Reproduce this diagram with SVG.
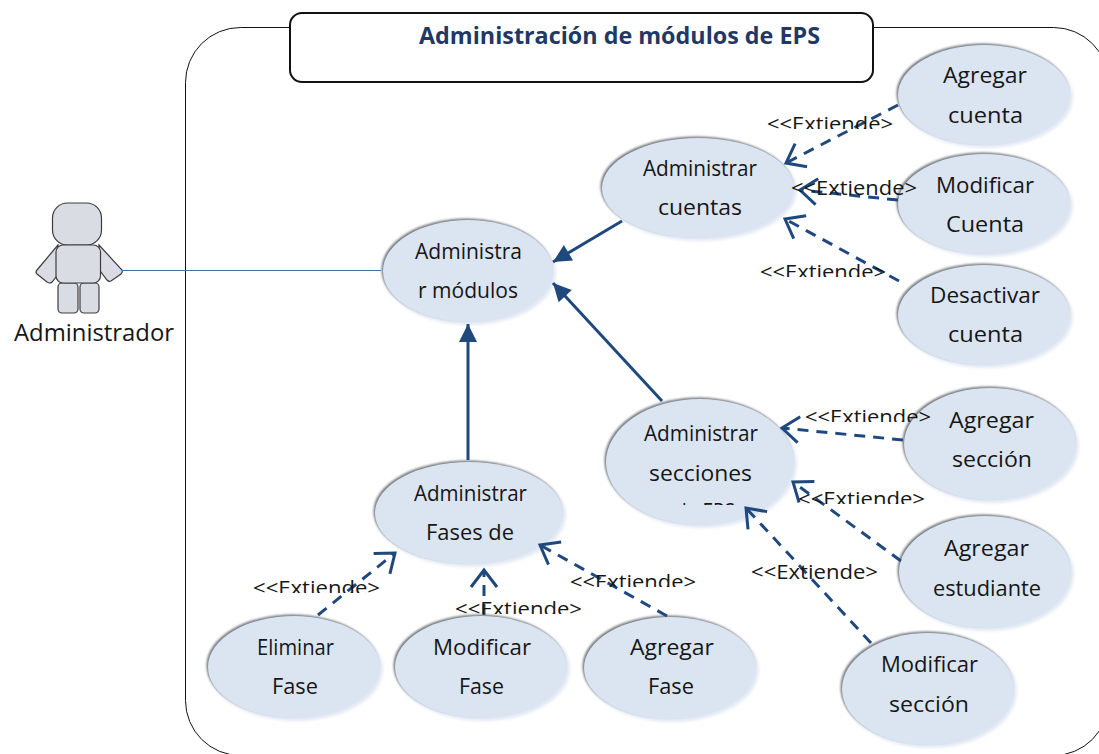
<svg xmlns="http://www.w3.org/2000/svg" width="1099" height="754" viewBox="0 0 1099 754">
<style>
text{font-family:"Open Sans","Lato","Liberation Sans",sans-serif;fill:#161616}
.t{font-size:21px}
.l{font-size:20px}
.ell{fill:#dbe5f1}
.sh{fill:#e3eaf5;filter:url(#b)}
.ed{fill:#777b80;filter:url(#s)}
.dash{fill:none;stroke:#1f497d;stroke-width:3;stroke-dasharray:11 8;marker-end:url(#open)}
.solid{fill:none;stroke:#1f497d;stroke-width:3;marker-end:url(#fill)}
.act{fill:#d9dde3;stroke:#3c3c3c;stroke-width:1.2}
</style>
<defs>
<filter id="b" x="-10%" y="-10%" width="120%" height="120%"><feGaussianBlur stdDeviation="1.5"/></filter>
<filter id="s" x="-10%" y="-10%" width="120%" height="120%"><feGaussianBlur stdDeviation="0.8"/></filter>
<marker id="open" markerUnits="userSpaceOnUse" markerWidth="40" markerHeight="40" refX="20" refY="20" orient="auto" overflow="visible"><path d="M3,7 L20,20 L3,33" fill="none" stroke="#1f497d" stroke-width="3"/></marker>
<marker id="fill" markerUnits="userSpaceOnUse" markerWidth="30" markerHeight="30" refX="18" refY="10" orient="auto" overflow="visible"><path d="M0,1 L18,10 L0,19 Z" fill="#1f497d"/></marker>
<clipPath id="c1"><rect x="760" y="100" width="140" height="29"/></clipPath>
<clipPath id="c3"><rect x="750" y="250" width="145" height="27"/></clipPath>
<clipPath id="c4"><rect x="800" y="395" width="135" height="27"/></clipPath>
<clipPath id="c5"><rect x="790" y="480" width="140" height="24"/></clipPath>
<clipPath id="c7"><rect x="565" y="565" width="135" height="22"/></clipPath>
<clipPath id="c8"><rect x="250" y="570" width="135" height="23"/></clipPath>
<clipPath id="c9"><rect x="450" y="590" width="135" height="24"/></clipPath>
<clipPath id="c0"><rect x="660" y="495" width="90" height="10"/></clipPath>
</defs>
<rect id="boundary" x="185.500" y="27.500" width="923" height="728" rx="55" ry="55" fill="#fff" stroke="#111" stroke-width="1"/>
<g id="title">
<rect x="290" y="13" width="583" height="69" rx="12" ry="12" fill="#fff" stroke="#111" stroke-width="2"/>
<text x="419" y="44" font-size="23" font-weight="700" style="fill:#1f3864" textLength="401" lengthAdjust="spacingAndGlyphs">Administración de módulos de EPS</text>
</g>
<g id="actor">
<path class="act" d="M58,245 L37,270 Q35,272 37,274 L47,282 Q50,284 52,282 L60,272 Z"/>
<path class="act" d="M99,245 L122,270 Q123,272 121,274 L111,281 Q109,282 107,280 L98,268 Z"/>
<rect class="act" x="58" y="283" width="20" height="30" rx="4"/>
<rect class="act" x="80" y="283" width="19" height="30" rx="4"/>
<rect class="act" x="52.500" y="203" width="49" height="42" rx="15"/>
<rect class="act" x="56" y="245" width="44.500" height="38" rx="7"/>
<text x="14" y="341" font-size="24" textLength="160" lengthAdjust="spacingAndGlyphs">Administrador</text>
</g>
<g id="n-modulos"><ellipse class="sh" cx="470" cy="273" rx="86" ry="52"/><ellipse class="ed" cx="466.500" cy="269.500" rx="85" ry="51"/><ellipse class="ell" cx="468" cy="271" rx="85" ry="51"/>
<text class="t" x="415" y="259" textLength="107" lengthAdjust="spacingAndGlyphs">Administra</text><text class="t" x="418" y="298" textLength="100" lengthAdjust="spacingAndGlyphs">r módulos</text></g>
<g id="n-cuentas"><ellipse class="sh" cx="700" cy="190" rx="97" ry="51"/><ellipse class="ed" cx="696.500" cy="186.500" rx="96" ry="50"/><ellipse class="ell" cx="698" cy="188" rx="96" ry="50"/>
<text class="t" x="643" y="176" textLength="114" lengthAdjust="spacingAndGlyphs">Administrar</text><text class="t" x="658" y="215" textLength="84" lengthAdjust="spacingAndGlyphs">cuentas</text></g>
<g id="n-secciones"><ellipse class="sh" cx="702" cy="464" rx="95" ry="64"/><ellipse class="ed" cx="698.500" cy="460.500" rx="94" ry="63"/><ellipse class="ell" cx="700" cy="462" rx="94" ry="63"/>
<text class="t" x="644" y="441" textLength="114" lengthAdjust="spacingAndGlyphs">Administrar</text><text class="t" x="649" y="481" textLength="103" lengthAdjust="spacingAndGlyphs">secciones</text><text class="t" x="675" y="519" clip-path="url(#c0)" textLength="60" lengthAdjust="spacingAndGlyphs">de EPS</text></g>
<g id="n-fases"><ellipse class="sh" cx="471" cy="515" rx="95" ry="52"/><ellipse class="ed" cx="467.500" cy="511.500" rx="94" ry="51"/><ellipse class="ell" cx="469" cy="513" rx="94" ry="51"/>
<text class="t" x="414" y="501" textLength="113" lengthAdjust="spacingAndGlyphs">Administrar</text><text class="t" x="426" y="540" textLength="88" lengthAdjust="spacingAndGlyphs">Fases de</text></g>
<g id="n-agregar-cuenta"><ellipse class="sh" cx="986" cy="97" rx="87" ry="51"/><ellipse class="ed" cx="982.500" cy="93.500" rx="86" ry="50"/><ellipse class="ell" cx="984" cy="95" rx="86" ry="50"/>
<text class="t" x="943" y="83" textLength="84" lengthAdjust="spacingAndGlyphs">Agregar</text><text class="t" x="948" y="123" textLength="75" lengthAdjust="spacingAndGlyphs">cuenta</text></g>
<g id="n-modificar-cuenta"><ellipse class="sh" cx="986" cy="206" rx="87" ry="51"/><ellipse class="ed" cx="982.500" cy="202.500" rx="86" ry="50"/><ellipse class="ell" cx="984" cy="204" rx="86" ry="50"/>
<text class="t" x="936" y="193" textLength="98" lengthAdjust="spacingAndGlyphs">Modificar</text><text class="t" x="946" y="232" textLength="78" lengthAdjust="spacingAndGlyphs">Cuenta</text></g>
<g id="n-desactivar"><ellipse class="sh" cx="986" cy="317" rx="87" ry="51"/><ellipse class="ed" cx="982.500" cy="313.500" rx="86" ry="50"/><ellipse class="ell" cx="984" cy="315" rx="86" ry="50"/>
<text class="t" x="930" y="303" textLength="110" lengthAdjust="spacingAndGlyphs">Desactivar</text><text class="t" x="948" y="342" textLength="75" lengthAdjust="spacingAndGlyphs">cuenta</text></g>
<g id="n-agregar-seccion"><ellipse class="sh" cx="992" cy="446" rx="87" ry="57"/><ellipse class="ed" cx="988.500" cy="442.500" rx="86" ry="56"/><ellipse class="ell" cx="990" cy="444" rx="86" ry="56"/>
<text class="t" x="949" y="428" textLength="85" lengthAdjust="spacingAndGlyphs">Agregar</text><text class="t" x="952" y="467" textLength="80" lengthAdjust="spacingAndGlyphs">sección</text></g>
<g id="n-estudiante"><ellipse class="sh" cx="987" cy="574" rx="87" ry="57"/><ellipse class="ed" cx="983.500" cy="570.500" rx="86" ry="56"/><ellipse class="ell" cx="985" cy="572" rx="86" ry="56"/>
<text class="t" x="944" y="556" textLength="85" lengthAdjust="spacingAndGlyphs">Agregar</text><text class="t" x="933" y="596" textLength="108" lengthAdjust="spacingAndGlyphs">estudiante</text></g>
<g id="n-modificar-seccion"><ellipse class="sh" cx="930" cy="691" rx="87" ry="57"/><ellipse class="ed" cx="926.500" cy="687.500" rx="86" ry="56"/><ellipse class="ell" cx="928" cy="689" rx="86" ry="56"/>
<text class="t" x="881" y="672" textLength="97" lengthAdjust="spacingAndGlyphs">Modificar</text><text class="t" x="889" y="712" textLength="80" lengthAdjust="spacingAndGlyphs">sección</text></g>
<g id="n-eliminar"><ellipse class="sh" cx="296" cy="669" rx="87" ry="52"/><ellipse class="ed" cx="292.500" cy="665.500" rx="86" ry="51"/><ellipse class="ell" cx="294" cy="667" rx="86" ry="51"/>
<text class="t" x="257" y="655" textLength="77" lengthAdjust="spacingAndGlyphs">Eliminar</text><text class="t" x="272" y="694" textLength="46" lengthAdjust="spacingAndGlyphs">Fase</text></g>
<g id="n-modificar-fase"><ellipse class="sh" cx="483" cy="669" rx="87" ry="52"/><ellipse class="ed" cx="479.500" cy="665.500" rx="86" ry="51"/><ellipse class="ell" cx="481" cy="667" rx="86" ry="51"/>
<text class="t" x="433" y="655" textLength="98" lengthAdjust="spacingAndGlyphs">Modificar</text><text class="t" x="459" y="694" textLength="45" lengthAdjust="spacingAndGlyphs">Fase</text></g>
<g id="n-agregar-fase"><ellipse class="sh" cx="672" cy="670" rx="87" ry="52"/><ellipse class="ed" cx="668.500" cy="666.500" rx="86" ry="51"/><ellipse class="ell" cx="670" cy="668" rx="86" ry="51"/>
<text class="t" x="630" y="655" textLength="84" lengthAdjust="spacingAndGlyphs">Agregar</text><text class="t" x="648" y="694" textLength="46" lengthAdjust="spacingAndGlyphs">Fase</text></g>
<g id="connectors">
<line x1="122" y1="270.500" x2="381" y2="270.500" stroke="#3f6fa8" stroke-width="1.200"/>
<path class="solid" d="M622,221 L553,262"/>
<path class="solid" d="M662,401 L553,283"/>
<path class="solid" d="M468,460 L468,324"/>
<path class="dash" d="M898,105 L786,163"/>
<path class="dash" d="M898,200 L800,190"/>
<path class="dash" d="M899,281 L785,219"/>
<path class="dash" d="M903,440 L782,428"/>
<path class="dash" d="M901,561 L793,482"/>
<path class="dash" d="M871,643 L746,508"/>
<path class="dash" d="M667,616 L540,545"/>
<path class="dash" d="M484,615 L484,570"/>
<path class="dash" d="M318,615 L395,553"/>
</g>
<g id="labels">
<text class="l" x="767" y="131" clip-path="url(#c1)" textLength="126" lengthAdjust="spacingAndGlyphs">&lt;&lt;Extiende&gt;</text>
<text class="l" x="791" y="195" textLength="126" lengthAdjust="spacingAndGlyphs">&lt;&lt;Extiende&gt;</text>
<text class="l" x="760" y="279" clip-path="url(#c3)" textLength="126" lengthAdjust="spacingAndGlyphs">&lt;&lt;Extiende&gt;</text>
<text class="l" x="805" y="424" clip-path="url(#c4)" textLength="126" lengthAdjust="spacingAndGlyphs">&lt;&lt;Extiende&gt;</text>
<text class="l" x="798" y="506" clip-path="url(#c5)" textLength="127" lengthAdjust="spacingAndGlyphs">&lt;&lt;Extiende&gt;</text>
<text class="l" x="751" y="579" textLength="127" lengthAdjust="spacingAndGlyphs">&lt;&lt;Extiende&gt;</text>
<text class="l" x="570" y="589" clip-path="url(#c7)" textLength="126" lengthAdjust="spacingAndGlyphs">&lt;&lt;Extiende&gt;</text>
<text class="l" x="253" y="595" clip-path="url(#c8)" textLength="127" lengthAdjust="spacingAndGlyphs">&lt;&lt;Extiende&gt;</text>
<text class="l" x="455" y="616" clip-path="url(#c9)" textLength="127" lengthAdjust="spacingAndGlyphs">&lt;&lt;Extiende&gt;</text>
</g>
</svg>
